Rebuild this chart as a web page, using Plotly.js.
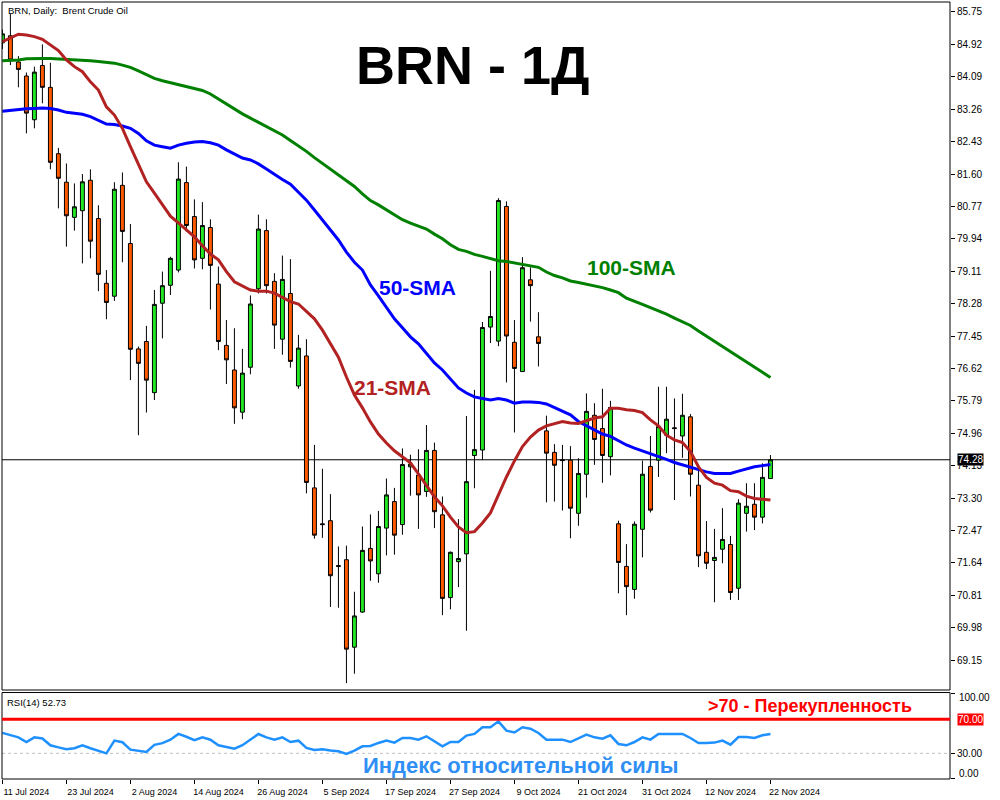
<!DOCTYPE html>
<html>
<head>
<meta charset="utf-8">
<script src="https://cdn.plot.ly/plotly-3.0.1.min.js"></script>
<style>html,body{margin:0;padding:0;background:#fff;}#chart{width:1000px;height:800px;}</style>
</head>
<body>
<div id="chart"></div>
<script>
const dates = [
"2024-07-11","2024-07-12","2024-07-15","2024-07-16","2024-07-17","2024-07-18","2024-07-19","2024-07-22","2024-07-23","2024-07-24","2024-07-25","2024-07-26","2024-07-29","2024-07-30","2024-07-31",
"2024-08-01","2024-08-02","2024-08-05","2024-08-06","2024-08-07","2024-08-08","2024-08-09","2024-08-12","2024-08-13","2024-08-14","2024-08-15","2024-08-16","2024-08-19","2024-08-20","2024-08-21","2024-08-22","2024-08-23","2024-08-26","2024-08-27","2024-08-28","2024-08-29","2024-08-30",
"2024-09-02","2024-09-03","2024-09-04","2024-09-05","2024-09-06","2024-09-09","2024-09-10","2024-09-11","2024-09-12","2024-09-13","2024-09-16","2024-09-17","2024-09-18","2024-09-19","2024-09-20","2024-09-23","2024-09-24","2024-09-25","2024-09-26","2024-09-27","2024-09-30",
"2024-10-01","2024-10-02","2024-10-03","2024-10-04","2024-10-07","2024-10-08","2024-10-09","2024-10-10","2024-10-11","2024-10-14","2024-10-15","2024-10-16","2024-10-17","2024-10-18","2024-10-21","2024-10-22","2024-10-23","2024-10-24","2024-10-25","2024-10-28","2024-10-29","2024-10-30","2024-10-31",
"2024-11-01","2024-11-04","2024-11-05","2024-11-06","2024-11-07","2024-11-08","2024-11-11","2024-11-12","2024-11-13","2024-11-14","2024-11-15","2024-11-18","2024-11-19","2024-11-20","2024-11-21","2024-11-22"];

const open = [84.96,85.14,84.47,84.11,82.99,84.38,83.82,82.12,81.39,80.49,80.66,81.44,80.46,78.80,78.47,81.31,79.82,77.12,77.31,76.00,78.29,78.75,79.14,81.38,80.51,79.44,80.23,78.78,77.21,76.58,75.50,76.65,78.66,80.15,78.85,77.37,78.54,76.17,76.94,73.56,72.64,72.72,71.57,71.72,69.48,70.38,72.01,71.36,72.53,73.21,72.62,74.10,73.89,73.47,74.52,72.87,70.75,71.67,71.87,74.39,74.53,77.68,77.32,80.77,77.29,76.54,78.89,77.43,75.02,74.47,74.28,74.27,72.91,73.91,75.42,75.08,74.36,72.64,71.55,70.96,72.50,74.11,74.27,74.91,75.10,74.89,75.38,73.63,71.91,71.70,71.99,72.11,70.99,72.91,73.14,72.81,73.80];
const high = [85.30,85.70,84.62,84.20,84.35,84.92,84.45,82.27,81.87,81.36,81.60,81.72,80.80,79.14,81.39,81.64,80.32,77.18,77.71,78.63,79.10,79.48,81.90,81.79,80.95,80.88,80.44,79.23,77.86,77.65,77.12,78.49,80.56,80.44,79.06,79.51,79.42,77.48,77.37,74.66,74.05,73.40,72.06,72.08,70.90,72.57,72.88,72.97,73.80,73.56,74.57,74.41,74.55,75.17,74.72,73.34,71.93,72.76,75.40,76.07,77.81,79.12,80.98,80.90,77.86,79.47,79.21,78.06,75.41,74.68,74.66,74.63,74.32,75.98,75.73,76.10,75.79,72.72,72.12,72.70,74.26,74.89,76.15,76.15,75.85,75.97,75.45,74.02,72.71,72.51,73.04,72.33,73.27,73.68,73.68,74.19,74.40];
const low = [84.80,84.39,83.82,82.64,82.77,83.41,81.72,80.72,79.74,80.15,79.31,79.44,78.60,77.88,78.35,79.34,76.32,74.91,75.49,75.81,77.39,78.50,79.08,80.12,79.18,79.16,78.13,77.09,76.22,75.20,75.32,76.47,78.54,78.54,77.12,76.97,76.64,76.10,73.42,72.26,72.28,70.51,70.49,68.56,68.80,70.36,71.18,71.13,71.83,71.85,72.36,73.36,72.51,73.33,72.53,70.30,70.45,71.02,69.90,73.55,74.27,77.27,77.19,76.26,74.98,76.53,77.82,76.67,73.19,73.21,72.98,72.27,72.59,73.31,74.15,73.69,73.88,70.86,70.30,70.72,71.78,72.93,73.84,74.45,73.25,74.33,73.34,71.53,71.48,70.63,71.63,70.69,70.69,72.44,72.48,72.65,73.80];
const close = [85.19,84.52,84.28,83.16,84.21,83.82,81.90,81.49,80.53,80.76,81.40,79.88,79.03,78.31,81.21,80.13,77.11,76.75,76.32,78.26,78.74,79.44,81.47,80.28,79.40,80.28,79.26,77.31,76.84,75.61,76.50,78.27,80.19,78.74,77.73,78.90,76.80,77.14,73.70,72.35,72.62,71.31,71.55,69.43,70.28,71.96,71.69,72.57,73.38,72.35,74.16,74.17,73.38,74.52,72.95,70.73,71.91,71.75,73.72,74.54,77.67,77.95,80.92,77.45,76.62,79.20,78.74,77.26,74.45,74.14,74.26,73.04,73.93,75.52,74.80,74.39,75.62,71.65,71.03,72.63,73.91,72.99,75.13,75.32,75.08,75.42,73.91,71.82,71.63,71.78,72.24,70.88,73.17,73.09,72.81,73.83,74.28];

const sma21 = [84.99,85.08,85.18,85.16,85.12,85.05,84.90,84.76,84.52,84.35,84.22,83.96,83.75,83.32,83.11,82.77,82.30,81.83,81.40,81.11,80.83,80.52,80.35,80.18,79.99,79.76,79.55,79.40,79.10,78.84,78.73,78.63,78.60,78.60,78.55,78.44,78.33,78.27,78.09,77.89,77.60,77.27,76.91,76.40,75.94,75.61,75.25,74.94,74.71,74.51,74.35,74.20,73.92,73.61,73.33,73.10,72.81,72.56,72.41,72.44,72.66,72.92,73.38,73.84,74.25,74.62,74.86,75.04,75.15,75.20,75.26,75.22,75.21,75.28,75.35,75.38,75.60,75.60,75.56,75.54,75.49,75.30,75.15,74.91,74.79,74.72,74.49,74.10,73.83,73.68,73.63,73.49,73.46,73.35,73.29,73.27,73.25];
const sma50 = [83.21,83.23,83.26,83.27,83.28,83.29,83.28,83.24,83.18,83.15,83.13,83.07,82.97,82.88,82.87,82.83,82.77,82.64,82.45,82.34,82.30,82.26,82.34,82.39,82.42,82.43,82.40,82.34,82.22,82.11,82.01,81.96,81.86,81.73,81.59,81.46,81.34,81.14,80.93,80.68,80.42,80.15,79.91,79.60,79.34,79.14,78.76,78.48,78.18,77.89,77.66,77.43,77.25,76.99,76.76,76.58,76.35,76.12,75.99,75.89,75.85,75.81,75.85,75.81,75.73,75.76,75.76,75.75,75.71,75.62,75.53,75.43,75.26,75.15,75.03,74.94,74.88,74.76,74.66,74.58,74.51,74.44,74.36,74.29,74.21,74.15,74.08,74.01,73.97,73.93,73.93,73.93,73.99,74.04,74.10,74.13,74.16];
const sma100 = [84.50,84.51,84.52,84.55,84.56,84.56,84.56,84.55,84.54,84.53,84.51,84.50,84.48,84.46,84.44,84.39,84.33,84.24,84.15,84.05,83.99,83.94,83.89,83.85,83.80,83.74,83.65,83.52,83.39,83.25,83.14,83.03,82.92,82.82,82.71,82.60,82.46,82.33,82.18,82.02,81.87,81.71,81.56,81.42,81.28,81.09,80.92,80.81,80.68,80.55,80.43,80.34,80.26,80.19,80.06,79.94,79.79,79.67,79.62,79.54,79.49,79.44,79.38,79.36,79.32,79.28,79.24,79.21,79.09,79.00,78.94,78.86,78.82,78.78,78.74,78.69,78.63,78.56,78.42,78.33,78.26,78.18,78.10,78.01,77.91,77.82,77.72,77.58,77.45,77.31,77.18,77.05,76.91,76.78,76.66,76.53,76.39];
const rsi14 = [54,51,48.8,43.3,48.8,47.5,39.5,37,34.7,36,39.4,36,33,30,45,43,34.3,33,31.5,40,42,46,52.8,49.5,45.5,48.8,46,39.5,37.5,35.5,39.5,46,52.7,48.8,46.1,48.8,43.3,44.9,36.3,33.9,34.7,33.2,32.4,29.2,33.2,38.2,38.6,42.2,44.9,42.6,48,48,46.1,50,44.1,38.2,43.3,43.3,50.8,52.8,60.6,60.6,67.6,56.7,54.5,60.6,59,53.9,46.1,46.1,46.1,43.3,47.3,52,48.8,47.3,51.2,41,39.4,43.3,48.8,46.1,52.8,52.8,52,52.8,48,42.2,42.2,42.6,44.9,40.2,49.2,49.2,48,51.2,52.73];

const priceTicks = [85.75,84.92,84.09,83.26,82.43,81.60,80.77,79.94,79.11,78.28,77.45,76.62,75.79,74.96,74.13,73.30,72.47,71.64,70.81,69.98,69.15];
const rsiTicks = [100,30,0];
const dateTickVals = ["2024-07-11","2024-07-23","2024-08-02","2024-08-14","2024-08-26","2024-09-05","2024-09-17","2024-09-27","2024-10-09","2024-10-21","2024-10-31","2024-11-12","2024-11-22"];
const dateTickText = ["11 Jul 2024","23 Jul 2024","2 Aug 2024","14 Aug 2024","26 Aug 2024","5 Sep 2024","17 Sep 2024","27 Sep 2024","9 Oct 2024","21 Oct 2024","31 Oct 2024","12 Nov 2024","22 Nov 2024"];
const lastPrice = 74.28;
const rsiLast = 52.73;
const overbought = 70, oversold = 30;

const FONT = "Liberation Sans, Arial, sans-serif";

const traces = [
  {type:'scatter', mode:'lines', x:dates, y:sma100, line:{color:'#008000', width:3}, hoverinfo:'skip', xaxis:'x', yaxis:'y'},
  {type:'scatter', mode:'lines', x:dates, y:sma50, line:{color:'#0000FF', width:3}, hoverinfo:'skip', xaxis:'x', yaxis:'y'},
  {type:'candlestick', x:dates, open:open, high:high, low:low, close:close, xaxis:'x', yaxis:'y',
   increasing:{line:{color:'#000000', width:1}, fillcolor:'#22E622'},
   decreasing:{line:{color:'#000000', width:1}, fillcolor:'#FF5A00'},
   whiskerwidth:0},
  {type:'scatter', mode:'lines', x:dates, y:sma21, line:{color:'#B22222', width:3}, hoverinfo:'skip', xaxis:'x', yaxis:'y'},
  {type:'scatter', mode:'lines', x:dates, y:rsi14, line:{color:'#1E90FF', width:2.5}, hoverinfo:'skip', xaxis:'x', yaxis:'y2'}
];

const px2x = p => (p-2)/948;
const px2y = p => (779-p)/777;

const layout = {
  width:1000, height:800,
  margin:{l:2, r:50, t:2, b:21, pad:0},
  paper_bgcolor:'#ffffff', plot_bgcolor:'#ffffff',
  showlegend:false,
  font:{family:FONT, color:'#000000', size:10},
  xaxis:{type:'category', categoryorder:'array', categoryarray:dates, anchor:'y2', domain:[0,1],
    range:[-0.05, 118.44], rangeslider:{visible:false}, showgrid:false, zeroline:false,
    tickmode:'array', tickvals:dateTickVals, ticktext:dateTickText, ticks:'outside', ticklen:4, tickcolor:'#000',
    tickfont:{family:FONT, size:9, color:'#000'}, ticklabelshift:24, showline:false, fixedrange:true},
  yaxis:{domain:[0.11454,1], anchor:'x', side:'right', range:[68.383,86.006], showgrid:false, zeroline:false,
    tickmode:'array', tickvals:priceTicks, ticktext:priceTicks.map(v=>v.toFixed(2)), ticks:'outside', ticklen:4, tickcolor:'#000',
    tickfont:{family:FONT, size:10, color:'#000'}, showline:false, fixedrange:true},
  yaxis2:{domain:[0,0.1113], anchor:'x', side:'right', range:[-0.2,101.5], showgrid:false, zeroline:false,
    tickmode:'array', tickvals:rsiTicks, ticktext:rsiTicks.map(v=>v===30 ? v.toFixed(2) : ''), ticks:'outside', ticklen:4, tickcolor:'#000',
    tickfont:{family:FONT, size:10, color:'#000'}, showline:false, fixedrange:true},
  shapes:[
    {type:'rect', xref:'paper', yref:'paper', x0:0, x1:1, y0:0.11454, y1:1, line:{color:'#000', width:1}},
    {type:'rect', xref:'paper', yref:'paper', x0:0, x1:1, y0:0, y1:0.1113, line:{color:'#000', width:1}},
    {type:'line', xref:'paper', yref:'y', x0:0, x1:1, y0:lastPrice, y1:lastPrice, line:{color:'#000', width:1}, layer:'below'},
    {type:'line', xref:'paper', yref:'y2', x0:0, x1:1, y0:overbought, y1:overbought, line:{color:'#FF0000', width:3}},
    {type:'line', xref:'paper', yref:'y2', x0:0, x1:1, y0:oversold, y1:oversold, line:{color:'#C0C0C0', width:1, dash:'dot'}, layer:'below'}
  ],
  annotations:[
    {text:'<b>BRN - 1Д</b>', xref:'paper', yref:'paper', x:px2x(472), y:px2y(65), xanchor:'center', yanchor:'middle', showarrow:false, font:{family:FONT, size:54, color:'#000'}},
    {text:'<b>100-SMA</b>', xref:'paper', yref:'paper', x:px2x(631), y:px2y(268), xanchor:'center', yanchor:'middle', showarrow:false, font:{family:FONT, size:21, color:'#008000'}},
    {text:'<b>50-SMA</b>', xref:'paper', yref:'paper', x:px2x(417.5), y:px2y(287), xanchor:'center', yanchor:'middle', showarrow:false, font:{family:FONT, size:21, color:'#0000FF'}},
    {text:'<b>21-SMA</b>', xref:'paper', yref:'paper', x:px2x(392.5), y:px2y(387), xanchor:'center', yanchor:'middle', showarrow:false, font:{family:FONT, size:21, color:'#B22222'}},
    {text:'<b>&gt;70 - Перекупленность</b>', xref:'paper', yref:'paper', x:px2x(810), y:px2y(706), xanchor:'center', yanchor:'middle', showarrow:false, font:{family:FONT, size:18, color:'#FF0000'}},
    {text:'<b>Индекс относительной силы</b>', xref:'paper', yref:'paper', x:px2x(520.5), y:px2y(765), xanchor:'center', yanchor:'middle', showarrow:false, font:{family:FONT, size:22, color:'#2F8FF5'}},
    {text:'BRN, Daily:  Brent Crude Oil', xref:'paper', yref:'paper', x:px2x(6), y:px2y(10), xanchor:'left', yanchor:'middle', showarrow:false, font:{family:FONT, size:9.5, color:'#000'}},
    {text:'RSI(14) ' + rsiLast.toFixed(2), xref:'paper', yref:'paper', x:px2x(5), y:px2y(702), xanchor:'left', yanchor:'middle', showarrow:false, font:{family:FONT, size:9.5, color:'#000'}},
    {text:(100).toFixed(2), xref:'paper', yref:'y2', x:1, y:100, xanchor:'left', yanchor:'middle', xshift:7, yshift:-4, showarrow:false, font:{family:FONT, size:10, color:'#000'}},
    {text:(0).toFixed(2), xref:'paper', yref:'y2', x:1, y:0, xanchor:'left', yanchor:'middle', xshift:7, yshift:5, showarrow:false, font:{family:FONT, size:10, color:'#000'}},
    {text:lastPrice.toFixed(2), xref:'paper', yref:'y', x:1, y:lastPrice, xanchor:'left', yanchor:'middle', xshift:7, showarrow:false, bgcolor:'#000000', borderpad:0, font:{family:FONT, size:10, color:'#ffffff'}},
    {text:overbought.toFixed(2), xref:'paper', yref:'y2', x:1, y:overbought, xanchor:'left', yanchor:'middle', xshift:7, showarrow:false, bgcolor:'#FF0000', borderpad:0, font:{family:FONT, size:10, color:'#ffffff'}}
  ]
};

Plotly.newPlot('chart', traces, layout, {staticPlot:true, displayModeBar:false});
</script>
</body>
</html>
